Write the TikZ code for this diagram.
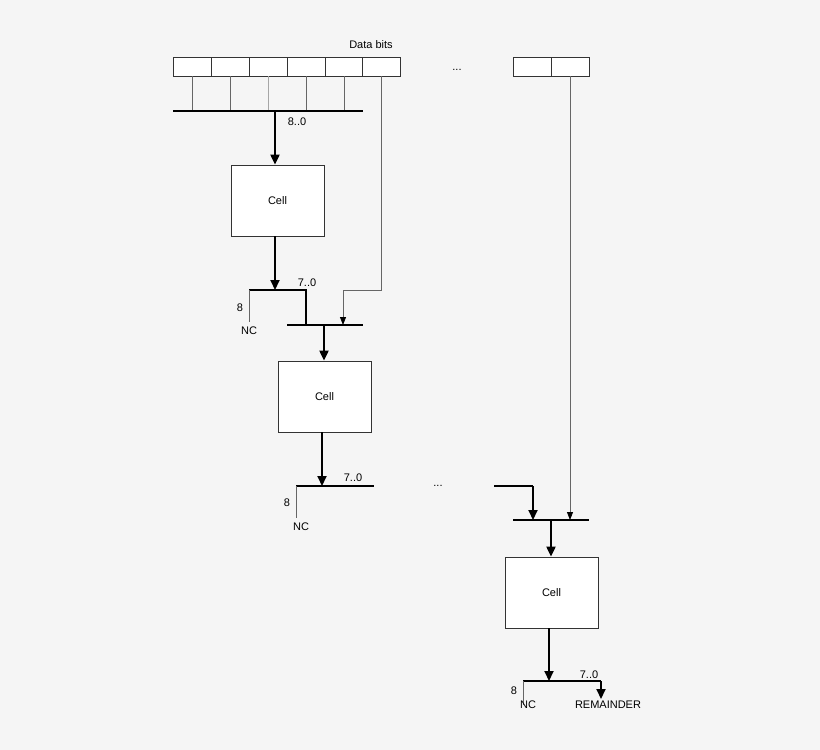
\documentclass[tikz,border=0pt]{standalone}
\usepackage{fontspec}
\setmainfont{Liberation Sans}
\usetikzlibrary{arrows.meta}
\begin{document}
\begin{tikzpicture}[x=1pt,y=-1pt,
  lbl/.style={font=\fontsize{11}{13}\selectfont,inner sep=0pt},
  cell/.style={draw=black!80,fill=white,line width=0.8pt,minimum width=93pt,minimum height=71pt,inner sep=0pt,font=\fontsize{11}{13}\selectfont},
  bit/.style={draw=black!80,fill=white,line width=0.8pt,minimum width=38pt,minimum height=19pt,inner sep=0pt},
  bus/.style={line width=2pt},
  tap/.style={draw=black!60,line width=0.8pt},
  arr/.style={line width=2pt,-{Triangle[length=10pt,width=9pt]}},
  tarr/.style={draw=black!60,line width=0.8pt,-{Triangle[length=8pt,width=6pt,color=black]}}]
\fill[white!96!black] (0,0) rectangle (820,750);
\node[lbl] (db) at (371,45) {Data bits};
\foreach \i/\x in {1/192,2/230,3/268,4/306,5/344,6/381,7/532,8/570}{\node[bit] (b\i) at (\x,66.5) {};}
\node[lbl] (dots1) at (457,70) {...};
\coordinate (bus1l) at (173,111); \coordinate (bus1r) at (363,111);
\foreach \i in {1,2,4,5}{\draw[tap] (b\i.south) -- (b\i.south |- bus1l);}
\draw[tap,draw=black!35] (b3.south) -- (b3.south |- bus1l);
\draw[bus] (bus1l) -- (bus1r);
\node[lbl] (l80) at (297,122) {8..0};
\node[cell] (c1) at (277.5,200.5) {Cell};
\coordinate (t1) at (275,111);
\draw[arr] (t1) -- (t1 |- c1.north);
\coordinate (o1) at (275,290); \coordinate (o1l) at (249,290); \coordinate (o1r) at (306,290);
\draw[arr] (c1.south -| o1) -- (o1);
\draw[line width=2pt] (o1l) -- (o1r) -- (306,325);
\draw[tap] (o1l) -- (249,322);
\node[lbl] (n8a) at (240,308) {8};
\node[lbl] (nca) at (249,331) {NC};
\node[lbl] (l70a) at (307,283) {7..0};
\coordinate (bus2l) at (287,325); \coordinate (bus2r) at (363,325);
\draw[bus] (bus2l) -- (bus2r);
\coordinate (k1) at (381,290); \coordinate (k2) at (343,290);
\draw[tarr] (b6.south) -- (k1) -- (k2) -- (343,325);
\node[cell] (c2) at (324.5,396.5) {Cell};
\draw[arr] (324,325) -- (c2.north -| 324,0);
\coordinate (o2) at (322,486);
\draw[arr] (c2.south -| o2) -- (o2);
\draw[bus] (296,486) -- (374,486);
\draw[tap] (296,486) -- (296,518);
\node[lbl] (n8b) at (287,503) {8};
\node[lbl] (ncb) at (301,527) {NC};
\node[lbl] (l70b) at (353,478) {7..0};
\node[lbl] (dots2) at (438,486) {...};
\coordinate (m1) at (494,486); \coordinate (m2) at (533,486);
\draw[line width=2pt] (m1) -- (m2);
\draw[arr] (m2) -- (533,520);
\draw[bus] (513,520) -- (589,520);
\draw[tarr] (b8.south) -- (570,520);
\node[cell] (c3) at (551.5,592.5) {Cell};
\draw[arr] (551,520) -- (c3.north -| 551,0);
\coordinate (o3) at (549,681);
\draw[arr] (c3.south -| o3) -- (o3);
\draw[bus] (523,681) -- (601,681);
\draw[arr] (601,681) -- (601,699);
\draw[tap] (523,681) -- (523,705);
\node[lbl] (n8c) at (514,691) {8};
\node[lbl] (ncc) at (528,705) {NC};
\node[lbl] (l70c) at (589,675) {7..0};
\node[lbl] (rem) at (608,705) {REMAINDER};
\end{tikzpicture}
\end{document}
